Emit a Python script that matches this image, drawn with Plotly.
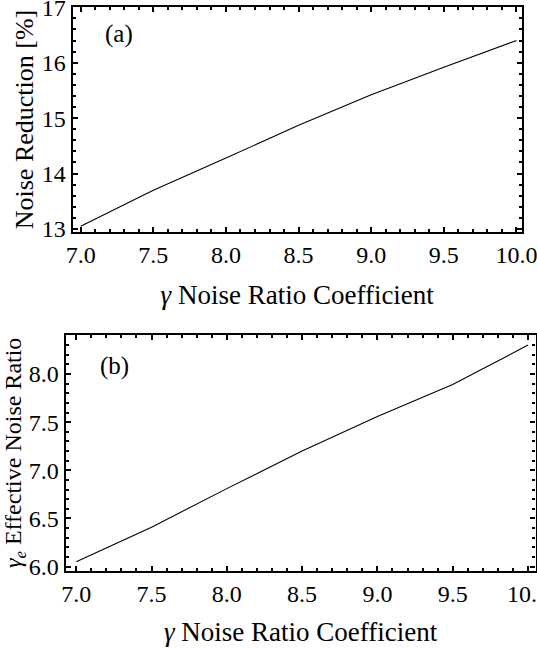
import plotly.graph_objects as go

gamma = [7.0, 7.5, 8.0, 8.5, 9.0, 9.5, 10.0]
noise_reduction = [13.05, 13.70, 14.28, 14.87, 15.42, 15.92, 16.40]
effective_ratio = [6.05, 6.41, 6.81, 7.20, 7.56, 7.89, 8.30]

W, H = 537, 648
FONT = "Liberation Serif"
TICKFONT = dict(family=FONT, size=24, color="black")

def tfont(s):
    return dict(family=FONT, size=s, color="black")

fig = go.Figure()
fig.add_trace(go.Scatter(x=gamma, y=noise_reduction, mode="lines",
                         line=dict(color="black", width=1.1), xaxis="x", yaxis="y"))
fig.add_trace(go.Scatter(x=gamma, y=effective_ratio, mode="lines",
                         line=dict(color="black", width=1.1), xaxis="x2", yaxis="y2"))

def px_x(a, b):
    return [a / W, b / W]

def px_y(top, bottom):
    return [1 - bottom / H, 1 - top / H]

def minor(dt):
    return dict(ticks="inside", ticklen=3, tickwidth=1.6, tickcolor="black",
                dtick=dt, showgrid=False)

axis_style = dict(showline=True, linecolor="black", linewidth=2.2, mirror="allticks",
                  ticks="inside", ticklen=5, tickwidth=1.6, tickcolor="black",
                  showgrid=False, zeroline=False, tickfont=TICKFONT,
                  automargin=False, ticklabeloverflow="allow")

fig.update_layout(
    width=W, height=H, margin=dict(l=0, r=0, t=0, b=0, autoexpand=False),
    paper_bgcolor="white", plot_bgcolor="white", showlegend=False,
    font=dict(family=FONT, size=22, color="black"),
    xaxis=dict(domain=px_x(72.7, 521.7), anchor="y", range=[6.945, 10.036],
               tick0=7, dtick=0.5, tickformat=".1f", minor=minor(0.1),
               title=dict(text="<i>γ</i> Noise Ratio Coefficient", standoff=18, font=tfont(27)),
               **axis_style),
    yaxis=dict(domain=px_y(7, 232), anchor="x", range=[12.946, 17.005],
               tick0=13, dtick=1, minor=minor(0.2),
               title=dict(text="Noise Reduction [%]", standoff=1, font=tfont(26)),
               **axis_style),
    xaxis2=dict(domain=px_x(65.7, 535.5), anchor="y2", range=[6.93, 10.05],
                tick0=7, dtick=0.5, tickformat=".1f", minor=minor(0.1),
                title=dict(text="<i>γ</i> Noise Ratio Coefficient", standoff=17, font=tfont(27)),
                **axis_style),
    yaxis2=dict(domain=px_y(335, 570.7), anchor="x2", range=[5.958, 8.405],
                tick0=6, dtick=0.5, tickformat=".1f", minor=minor(0.1),
                title=dict(text="<i>γ<sub>e</sub></i> Effective Noise Ratio", standoff=4, font=tfont(24)),
                **axis_style),
    annotations=[
        dict(text="(a)", x=0.067, y=0.88, xref="x domain", yref="y domain",
             xanchor="left", yanchor="middle", showarrow=False, font=tfont(25)),
        dict(text="(b)", x=0.069, y=0.868, xref="x2 domain", yref="y2 domain",
             xanchor="left", yanchor="middle", showarrow=False, font=tfont(25)),
    ],
)

fig.write_html("out.html")
